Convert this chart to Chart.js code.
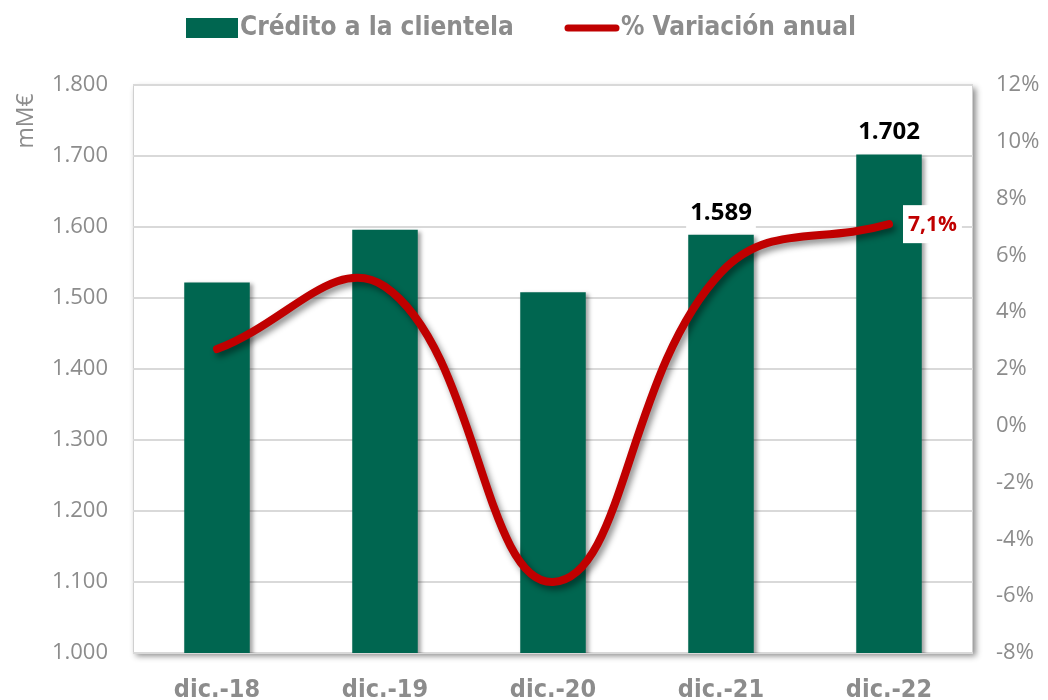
<!DOCTYPE html>
<html>
<head>
<meta charset="utf-8">
<script src="https://cdn.jsdelivr.net/npm/chart.js@4"></script>
<style>
html,body{margin:0;padding:0;background:#fff;}
#wrap{width:1048px;height:700px;position:relative;}
</style>
</head>
<body>
<div id="wrap"><canvas id="c" width="1048" height="700"></canvas></div>
<script>
const categories = ['dic.-18','dic.-19','dic.-20','dic.-21','dic.-22'];
const credito = [1522, 1596, 1508, 1589, 1702];
const variacion = [2.7, 4.9, -5.5, 5.4, 7.1];
const leftTicks = {min:1000, max:1800, step:100};
const rightTicks = {min:-8, max:12, step:2};
const creditoLabels = [null, null, null, '1.589', '1.702'];
const variacionLabels = [null, null, null, null, '7,1%'];
const legendNames = ['Crédito a la clientela', '% Variación anual'];
const leftTitle = 'mM€';

const GREEN = '#006650';
const RED = '#C00000';
const GRAY = '#8c8c8c';
const NARROW = "'Liberation Sans Narrow','DejaVu Sans Condensed','Arial Narrow',sans-serif";
const TICKFONT = "'Open Sans','DejaVu Sans',sans-serif";

const fmtThousands = v => {
  const s = String(Math.round(v));
  return s.replace(/\B(?=(\d{3})+(?!\d))/g, '.');
};

const boxPlugin = {
  id: 'box',
  beforeDraw(chart) {
    const {ctx, chartArea: a} = chart;
    ctx.save();
    ctx.fillStyle = '#fff';
    ctx.shadowColor = 'rgba(0,0,0,0.45)';
    ctx.shadowBlur = 6;
    ctx.shadowOffsetX = 3;
    ctx.shadowOffsetY = 3;
    ctx.fillRect(a.left, a.top, a.right - a.left, a.bottom - a.top);
    ctx.restore();
    ctx.save();
    ctx.strokeStyle = '#d0d0d0';
    ctx.lineWidth = 1;
    ctx.strokeRect(a.left + 0.5, a.top + 0.5, a.right - a.left - 1, a.bottom - a.top - 1);
    ctx.restore();
  }
};

const shadowPlugin = {
  id: 'shadowz',
  beforeDatasetDraw(chart, args) {
    const ctx = chart.ctx;
    ctx.save();
    if (args.index === 1) {
      ctx.shadowColor = 'rgba(0,0,0,0.45)';
      ctx.shadowBlur = 6;
      ctx.shadowOffsetX = 3;
      ctx.shadowOffsetY = 4;
    } else {
      ctx.shadowColor = 'rgba(0,0,0,0.35)';
      ctx.shadowBlur = 4;
      ctx.shadowOffsetX = 3;
      ctx.shadowOffsetY = 2;
    }
  },
  afterDatasetDraw(chart) {
    chart.ctx.restore();
  }
};

const labelsPlugin = {
  id: 'labelsz',
  afterDatasetsDraw(chart) {
    const ctx = chart.ctx;
    ctx.save();
    const barMeta = chart.getDatasetMeta(0);
    ctx.font = "bold 24px 'Open Sans','DejaVu Sans',sans-serif";
    ctx.textAlign = 'center';
    ctx.textBaseline = 'bottom';
    creditoLabels.forEach((t, i) => {
      if (!t) return;
      const el = barMeta.data[i];
      const w = ctx.measureText(t).width;
      ctx.fillStyle = '#fff';
      ctx.fillRect(el.x - w/2 - 4, el.y - 37, w + 8, 31);
      ctx.fillStyle = '#000';
      ctx.fillText(t, el.x, el.y - 10);
    });
    const lineMeta = chart.getDatasetMeta(1);
    ctx.font = "bold 21px 'Open Sans','DejaVu Sans',sans-serif";
    ctx.textAlign = 'left';
    ctx.textBaseline = 'middle';
    variacionLabels.forEach((t, i) => {
      if (!t) return;
      const el = lineMeta.data[i];
      const w = ctx.measureText(t).width;
      const x0 = el.x + 14;
      ctx.fillStyle = '#fff';
      ctx.fillRect(x0, el.y - 19, w + 10, 38);
      ctx.fillStyle = RED;
      ctx.fillText(t, x0 + 5, el.y + 1);
    });
    ctx.restore();
  }
};

const legendPlugin = {
  id: 'legendz',
  afterDraw(chart) {
    const ctx = chart.ctx;
    ctx.save();
    ctx.font = "bold 26px " + NARROW;
    ctx.textBaseline = 'middle';
    ctx.fillStyle = GREEN;
    ctx.fillRect(186, 18, 52, 20);
    ctx.fillStyle = GRAY;
    ctx.fillText(legendNames[0], 240, 28);
    ctx.strokeStyle = RED;
    ctx.lineWidth = 7;
    ctx.lineCap = 'round';
    ctx.beginPath();
    ctx.moveTo(568, 28);
    ctx.lineTo(616, 28);
    ctx.stroke();
    ctx.fillStyle = GRAY;
    ctx.fillText(legendNames[1], 621, 28);
    ctx.font = "23px " + TICKFONT;
    ctx.fillStyle = GRAY;
    ctx.translate(26, 121);
    ctx.rotate(-Math.PI / 2);
    ctx.textAlign = 'center';
    ctx.textBaseline = 'middle';
    ctx.fillText(leftTitle, 0, 0);
    ctx.restore();
  }
};

new Chart(document.getElementById('c'), {
  data: {
    labels: categories,
    datasets: [
      {
        type: 'bar',
        label: legendNames[0],
        data: credito,
        backgroundColor: GREEN,
        yAxisID: 'y',
        barPercentage: 0.39,
        categoryPercentage: 1.0,
        order: 2
      },
      {
        type: 'line',
        label: legendNames[1],
        data: variacion,
        borderColor: RED,
        borderWidth: 8,
        borderCapStyle: 'round',
        pointRadius: 0,
        tension: 0.42,
        cubicInterpolationMode: 'default',
        yAxisID: 'y1',
        order: 1
      }
    ]
  },
  options: {
    responsive: false,
    animation: false,
    layout: {padding: {top: 85, right: 0, left: 0, bottom: 0}},
    plugins: {
      legend: {display: false},
      tooltip: {enabled: false}
    },
    scales: {
      x: {
        grid: {display: false},
        border: {display: false},
        ticks: {
          color: GRAY,
          font: {family: NARROW, size: 25, weight: 'bold'},
          padding: 14
        },
        afterFit(s) { s.height = 47; }
      },
      y: {
        position: 'left',
        min: leftTicks.min, max: leftTicks.max,
        border: {display: false},
        grid: {color: '#d9d9d9', lineWidth: 2, drawTicks: false},
        ticks: {
          stepSize: leftTicks.step,
          color: GRAY,
          font: {family: TICKFONT, size: 22},
          padding: 25,
          callback: v => fmtThousands(v)
        },
        afterFit(s) { s.width = 133; }
      },
      y1: {
        position: 'right',
        min: rightTicks.min, max: rightTicks.max,
        border: {display: false},
        grid: {display: false},
        ticks: {
          stepSize: rightTicks.step,
          color: GRAY,
          font: {family: TICKFONT, size: 22},
          padding: 15,
          callback: v => v + '%'
        },
        afterFit(s) { s.width = 75; }
      }
    }
  },
  plugins: [boxPlugin, shadowPlugin, labelsPlugin, legendPlugin]
});
</script>
</body>
</html>
